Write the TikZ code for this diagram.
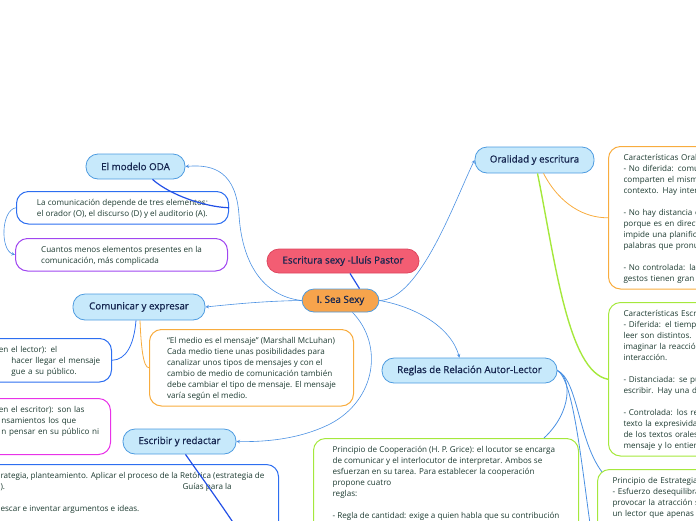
\documentclass[tikz,border=0pt]{standalone}
\usepackage{fontspec}
\setmainfont{Open Sans}
\newfontfamily\topicfont{Open Sans}[FakeBold=0.8]
\usepackage{tikz}
\usetikzlibrary{arrows,shapes,positioning}
\usepackage{xcolor}
\hyphenpenalty=10000
\exhyphenpenalty=10000
\newcommand{\mmstrut}{\rule{0pt}{9pt}}
\definecolor{mmtopic}{RGB}{199,233,251}
\definecolor{mmtopicline}{RGB}{77,155,224}
\definecolor{mmlink}{RGB}{74,144,226}
\definecolor{mmdeep}{RGB}{35,80,230}
\definecolor{mmorange}{RGB}{247,164,76}
\definecolor{mmred}{RGB}{243,93,115}
\definecolor{mmredline}{RGB}{222,70,95}
\definecolor{mmblue}{RGB}{45,110,240}
\definecolor{mmpurple}{RGB}{160,70,240}
\definecolor{mmmagenta}{RGB}{232,50,232}
\definecolor{mmamber}{RGB}{248,172,62}
\definecolor{mmgreen}{RGB}{165,232,60}
\definecolor{mmnotetext}{RGB}{28,58,48}
\definecolor{mmtopictext}{RGB}{22,38,80}
\tikzstyle{topic} = [rectangle, rounded corners=12pt, minimum height=25pt, text centered, draw=mmtopicline, fill=mmtopic, line width=0.8pt, text=mmtopictext, font=\topicfont\fontsize{9.8}{11}\selectfont]
\tikzstyle{note} = [rectangle, rounded corners=12pt, draw, line width=1pt, align=left, inner xsep=15pt, inner ysep=5pt, text=mmnotetext, font=\fontsize{8.1}{11}\selectfont, execute at begin node={\mmstrut}, execute at end node={\rule[-2.5pt]{0pt}{0pt}}]
\tikzstyle{link} = [line width=0.6pt, ->, >=stealth, color=mmlink]
\tikzstyle{branch} = [line width=0.8pt, color=mmlink]
\tikzstyle{deeplink} = [line width=1.2pt, color=mmdeep]

\begin{document}
\begin{tikzpicture}[x=1pt, y=-1pt]
\useasboundingbox (0,0) rectangle (696,520);
\clip (0,0) rectangle (696,520);
% centre
\node (book) [topic, fill=mmred, draw=mmredline, minimum width=152pt, minimum height=24pt] at (343,261) {Escritura sexy -Lluís Pastor};
\node (sexy) [topic, fill=mmorange, minimum width=77pt, minimum height=23pt] at (340.5,300.5) {I. Sea Sexy};
% main topics
\node (oda) [topic, minimum width=99pt] at (135.5,166.5) {El modelo ODA};
\node (com) [topic, minimum width=132pt, minimum height=26pt] at (139,307) {Comunicar y expresar};
\node (esc) [topic, minimum width=113pt] at (179.5,441.5) {Escribir y redactar};
\node (ora) [topic, minimum width=119pt, minimum height=26pt] at (534.5,160) {Oralidad y escritura};
\node (reg) [topic, minimum width=175pt] at (469.5,370.5) {Reglas de Relación Autor-Lector};
% notes
\node (odaA) [note, draw=mmblue, anchor=north west, minimum width=212pt, inner xsep=4pt] at (16,191) {\mmstrut La comunicación depende de tres elementos:\\el orador (O), el discurso (D) y el auditorio (A).\rule[-2.5pt]{0pt}{0pt}};
\node (odaB) [note, draw=mmpurple, anchor=north west, minimum width=212pt, inner xsep=4pt] at (15,238) {\mmstrut Cuantos menos elementos presentes en la\\comunicación, más complicada\rule[-2.5pt]{0pt}{0pt}};
\node (comA) [note, draw=mmblue, anchor=north east, text width=200pt, inner xsep=8pt] at (112,338) {\hspace*{93pt}(en el lector): el\\\hspace*{108pt}hacer llegar el mensaje\\\hspace*{108pt}gue a su público.};
\node (comB) [note, draw=mmmagenta, anchor=north east, text width=200pt, inner xsep=8pt] at (111,398) {\hspace*{94pt}(en el escritor): son las\\\hspace*{99pt}nsamientos los que\\\hspace*{99pt}n pensar en su público ni\rule[-15pt]{0pt}{0pt}};
\node (mcl) [note, draw=mmamber, anchor=north west, minimum width=204pt, inner xsep=4pt] at (149,329) {\mmstrut “El medio es el mensaje” (Marshall McLuhan)\\Cada medio tiene unas posibilidades para\\canalizar unos tipos de mensajes y con el\\cambio de medio de comunicación también\\debe cambiar el tipo de mensaje. El mensaje\\varía según el medio.\rule[-2.5pt]{0pt}{0pt}};
\node (escA) [note, draw=mmblue, anchor=north east, inner xsep=14pt] at (279,464) {\mmstrut\hspace*{40pt}rategia, planteamiento. Aplicar el proceso de la Retórica (estrategia de\\\hspace*{40pt}\makebox[182pt][l]{).}Guías para la\\[11pt]\hspace*{40pt}escar e inventar argumentos e ideas.\rule[-30pt]{0pt}{0pt}};
\node (oraO) [note, draw=mmamber, anchor=north west, text width=110pt] at (608,146) {Características Oral\\- No diferida: comu\\comparten el mism\\contexto. Hay inter\\[11pt]- No hay distancia e\\porque es en direct\\impide una planifica\\palabras que pronu\\[11pt]- No controlada: la\\gestos tienen gran};
\node (oraE) [note, draw=mmgreen, anchor=north west, text width=110pt] at (608,302) {Características Escr\\- Diferida: el tiempo\\leer son distintos. E\\imaginar la reacción\\interacción.\\[11pt]- Distanciada: se pu\\escribir. Hay una dis\\[11pt]- Controlada: los re\\texto la expresivida\\de los textos orales\\mensaje y lo entien};
\node (coop) [note, draw=mmgreen, anchor=north west, minimum width=265pt, inner xsep=4pt] at (313,438) {\mmstrut Principio de Cooperación (H. P. Grice): el locutor se encarga\\de comunicar y el interlocutor de interpretar. Ambos se\\esfuerzan en su tarea. Para establecer la cooperación\\propone cuatro\\reglas:\\[11pt]- Regla de cantidad: exige a quien habla que su contribución\rule[-20pt]{0pt}{0pt}};
\node (stra) [note, draw=mmgreen, anchor=north west, text width=110pt] at (597,469) {Principio de Estrategia\\- Esfuerzo desequilibra\\provocar la atracción s\\un lector que apenas n\rule[-20pt]{0pt}{0pt}};
\coordinate (escnext) at (250,548);
\coordinate (regnext) at (593,545);
% connectors
\draw [deeplink] ([xshift=7pt]book.south) -- ([xshift=19pt]sexy.north);
\draw [link] (sexy.west) .. controls (262,296) and (242,262) .. (239,215) .. controls (236,172) and (214,164) .. (oda.east);
\draw [link] (sexy.west) .. controls (265,301) and (235,304) .. (com.east);
\draw [link] ([xshift=12pt]sexy.south) .. controls (384,345) and (376,400) .. (330,424) .. controls (298,440) and (262,442) .. (esc.east);
\draw [link] (sexy.east) .. controls (420,300) and (455,200) .. (ora.west);
\draw [link] (sexy.east) .. controls (412,306) and (450,325) .. ([xshift=-10pt]reg.north);
\draw [deeplink] ([xshift=17pt]oda.south) .. controls (170,195) and (205,207) .. (odaA.east);
\draw [link] (odaA.west) .. controls (1,210) and (0,250) .. (odaB.west);
\draw [branch, color=mmblue] ([xshift=-3pt]com.south) .. controls (134,345) and (126,360) .. (comA.east);
\draw [branch, color=mmamber] ([xshift=1pt]com.south) .. controls (141,345) and (143,368) .. (mcl.west);
\draw [deeplink] ([xshift=6pt]esc.south) .. controls (202,478) and (222,505) .. (escnext);
\draw [branch, color=mmamber] ([xshift=9pt]ora.south) .. controls (560,205) and (585,218) .. (oraO.west);
\draw [branch, color=mmgreen, line width=1.4pt] ([xshift=3pt]ora.south) .. controls (555,260) and (568,372) .. (oraE.west);
\draw [branch] (reg.east) .. controls (572,378) and (572,412) .. ([xshift=-35pt]coop.north east);
\draw [branch] (reg.east) .. controls (578,380) and (578,440) .. ([xshift=5pt,yshift=-3pt]stra.north west);
\draw [branch] (reg.east) .. controls (574,380) and (582,470) .. (regnext);
\end{tikzpicture}
\end{document}
